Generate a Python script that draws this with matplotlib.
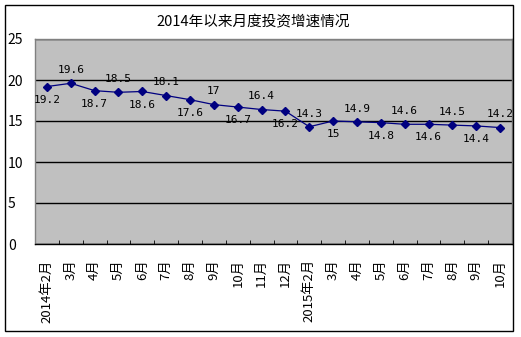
import matplotlib
matplotlib.use('Agg')
import matplotlib.pyplot as plt
from matplotlib.patches import Rectangle

plt.rcParams['font.family'] = ['Noto Sans CJK SC', 'DejaVu Sans']

# 月度数据
months = ['2014年2月', '3月', '4月', '5月', '6月', '7月', '8月', '9月', '10月',
          '11月', '12月', '2015年2月', '3月', '4月', '5月', '6月', '7月', '8月',
          '9月', '10月']
growth = [19.2, 19.6, 18.7, 18.5, 18.6, 18.1, 17.6, 17.0, 16.7, 16.4, 16.2,
          14.3, 15.0, 14.9, 14.8, 14.6, 14.6, 14.5, 14.4, 14.2]
yticks = [0, 5, 10, 15, 20, 25]

W, H = 521, 337
fig = plt.figure(figsize=(W / 100, H / 100), dpi=100)
fig.patch.set_facecolor('white')
fig.patches.append(Rectangle((5 / W, 6 / H), 508 / W, 326 / H, transform=fig.transFigure,
                             fill=False, edgecolor='black', linewidth=1))

ax = fig.add_axes([35 / W, (H - 244) / H, 477 / W, 205 / H])
ax.set_facecolor('#C0C0C0')
for s in ax.spines.values():
    s.set_color('#808080')
    s.set_linewidth(1)
ax.spines['bottom'].set_color('black')

x = list(range(len(months)))
ax.plot(x, growth, color='#000080', linewidth=0.9, marker='D', markersize=4.2)

# 数据标签上下交替
for i, v in enumerate(growth):
    txt = ('%g' % v)
    dy = 9.5 if i % 2 == 1 else -9.5
    ax.annotate(txt, (i, v), xytext=(0, dy), textcoords='offset points',
                ha='center', va='center', fontsize=8, family='DejaVu Sans Mono')

ax.set_xlim(-0.5, len(months) - 0.5)
ax.set_ylim(0, 25)
ax.set_yticks(yticks)
ax.yaxis.grid(True, color='black', linewidth=1)
ax.set_axisbelow(True)
ax.tick_params(axis='y', length=0, pad=19.5, labelsize=10)
for lab in ax.get_yticklabels():
    lab.set_horizontalalignment('left')

ax.set_xticks(x)
ax.set_xticklabels(months, rotation=90, fontsize=9.5, va='top', ha='center')
ax.tick_params(axis='x', which='major', length=0, pad=11)
ax.set_xticks([i - 0.5 for i in range(1, len(months))], minor=True)
ax.tick_params(axis='x', which='minor', direction='in', length=3, color='black')

fig.text(253 / W, 1 - 22 / H, '2014年以来月度投资增速情况', ha='center', va='center',
         fontsize=10.5)

fig.savefig('out.png', dpi=100)
